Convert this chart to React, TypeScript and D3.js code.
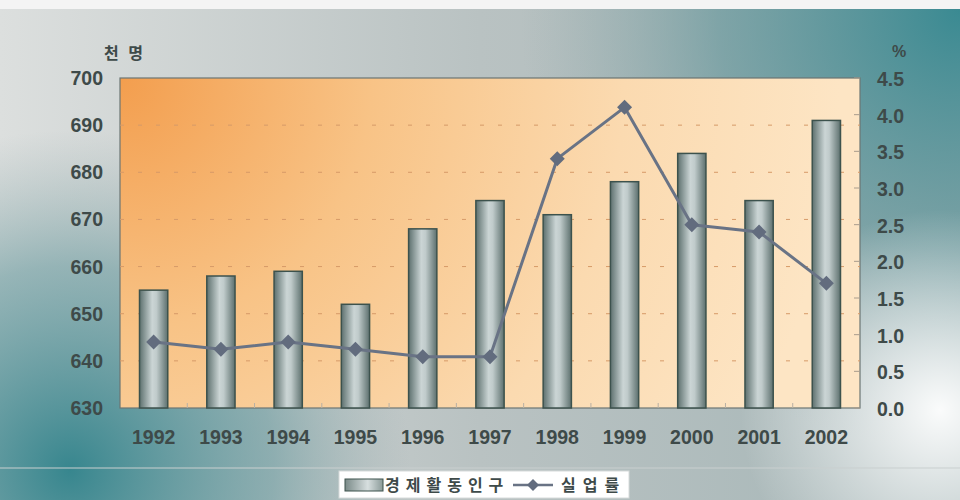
import React from "react";
import * as d3 from "d3";

const years = ["1992","1993","1994","1995","1996","1997","1998","1999","2000","2001","2002"];
const population = [655, 658, 659, 652, 668, 674, 671, 678, 684, 674, 691];
const unemployment = [0.9, 0.8, 0.9, 0.8, 0.7, 0.7, 3.4, 4.1, 2.5, 2.4, 1.7];
const leftTicks = [630, 640, 650, 660, 670, 680, 690, 700];
const rightTicks = [0, 0.5, 1, 1.5, 2, 2.5, 3, 3.5, 4, 4.5];
const leftUnit = "천 명";
const rightUnit = "%";
const barLabel = "경제활동인구";
const lineLabel = "실업률";

const W = 960, H = 500;
const M = { left: 120, right: 860, top: 78, bottom: 408 };
const TXT = "#3e4a49";
const FONT = "'Liberation Sans', Arial, sans-serif";
const KFONT = "'Noto Sans CJK KR', sans-serif";

export default function App() {
  const x = d3.scaleBand<string>().domain(years).range([M.left, M.right]).paddingInner(0.58).paddingOuter(0.29);
  const yL = d3.scaleLinear().domain([630, 700]).range([M.bottom, M.top]);
  const yR = d3.scaleLinear().domain([0, 4.5]).range([M.bottom, M.top]);
  const step = x.step();
  const line = d3.line<number>().x((_, i) => (x(years[i]) as number) + x.bandwidth() / 2).y(d => yR(d));
  const diamond = (cx: number, cy: number, r: number) => `M${cx},${cy - r}L${cx + r},${cy}L${cx},${cy + r}L${cx - r},${cy}Z`;

  return (
    <svg width={W} height={H} style={{ position: "absolute", left: 0, top: 0 }}>
      <defs>
        <radialGradient id="tealTR" cx="960" cy="10" r="440" gradientUnits="userSpaceOnUse">
          <stop offset="0" stopColor="#3a8a92" stopOpacity="1" />
          <stop offset="0.55" stopColor="#5f9499" stopOpacity="0.6" />
          <stop offset="1" stopColor="#8aa3a5" stopOpacity="0" />
        </radialGradient>
        <radialGradient id="tealBL" cx="70" cy="470" r="340" gradientUnits="userSpaceOnUse">
          <stop offset="0" stopColor="#37868e" stopOpacity="1" />
          <stop offset="0.6" stopColor="#5e9398" stopOpacity="0.55" />
          <stop offset="1" stopColor="#8aa3a5" stopOpacity="0" />
        </radialGradient>
        <radialGradient id="whiteR" cx="940" cy="410" r="200" gradientUnits="userSpaceOnUse">
          <stop offset="0" stopColor="#ffffff" stopOpacity="0.95" />
          <stop offset="1" stopColor="#ffffff" stopOpacity="0" />
        </radialGradient>
        <linearGradient id="baseBg" x1="0" y1="0" x2="1" y2="0">
          <stop offset="0" stopColor="#dcdfde" />
          <stop offset="0.5" stopColor="#b9c2c2" />
          <stop offset="1" stopColor="#a5b6b7" />
        </linearGradient>
        <radialGradient id="plotBg" cx="120" cy="78" r="720" gradientUnits="userSpaceOnUse">
          <stop offset="0" stopColor="#f39e4e" />
          <stop offset="0.35" stopColor="#f8c386" />
          <stop offset="0.7" stopColor="#fbdab0" />
          <stop offset="1" stopColor="#fde5c4" />
        </radialGradient>
        <linearGradient id="barGrad" x1="0" y1="0" x2="1" y2="0">
          <stop offset="0" stopColor="#5d706e" />
          <stop offset="0.45" stopColor="#cbd5d5" />
          <stop offset="0.6" stopColor="#c0cbcb" />
          <stop offset="1" stopColor="#5d706e" />
        </linearGradient>
        <linearGradient id="legGrad" x1="0" y1="0" x2="1" y2="0">
          <stop offset="0" stopColor="#7a8a88" />
          <stop offset="0.6" stopColor="#d7dfdf" />
          <stop offset="1" stopColor="#8a9a98" />
        </linearGradient>
      </defs>

      {/* background */}
      <rect x={0} y={0} width={W} height={H} fill="#f4f4f4" />
      <rect x={0} y={9} width={W} height={H - 9} fill="url(#baseBg)" />
      <rect x={0} y={9} width={W} height={H - 9} fill="url(#tealTR)" />
      <rect x={0} y={9} width={W} height={H - 9} fill="url(#tealBL)" />
      <rect x={0} y={9} width={W} height={H - 9} fill="url(#whiteR)" />
      <line x1={0} x2={W} y1={468} y2={468} stroke="#c9cfcf" strokeWidth={1} />

      {/* plot area */}
      <rect x={M.left} y={M.top} width={M.right - M.left} height={M.bottom - M.top} fill="url(#plotBg)" stroke="#6b7573" strokeWidth={1.2} />
      {leftTicks.slice(1, -1).map(t => (
        <line key={t} x1={M.left} x2={M.right} y1={yL(t)} y2={yL(t)} stroke="#d69a68" strokeWidth={1} strokeDasharray="4 14" />
      ))}
      {years.slice(1).map(yr => (
        <line key={yr} x1={(x(yr) as number) - (step - x.bandwidth()) / 2} x2={(x(yr) as number) - (step - x.bandwidth()) / 2}
          y1={M.bottom} y2={M.bottom - 5} stroke="#b8b0a4" strokeWidth={1} />
      ))}
      {rightTicks.map(t => (
        <line key={t} x1={M.right - 6} x2={M.right} y1={yR(t)} y2={yR(t)} stroke="#a89c8c" strokeWidth={1} />
      ))}

      {/* bars */}
      {population.map((v, i) => (
        <rect key={years[i]} x={x(years[i])} y={yL(v)} width={x.bandwidth()} height={M.bottom - yL(v)}
          fill="url(#barGrad)" stroke="#3c524d" strokeWidth={1.5} />
      ))}

      {/* line */}
      <path d={line(unemployment) as string} fill="none" stroke="#697385" strokeWidth={3} strokeLinejoin="round" />
      {unemployment.map((v, i) => (
        <path key={i} d={diamond((x(years[i]) as number) + x.bandwidth() / 2, yR(v), 7.5)} fill="#626c7e" />
      ))}

      {/* axes labels */}
      {leftTicks.map(t => (
        <text key={t} x={103} y={yL(t) + 7} textAnchor="end" fontFamily={FONT} fontWeight="bold" fontSize={19.5} fill={TXT}>{t}</text>
      ))}
      {rightTicks.map(t => (
        <text key={t} x={904} y={yR(t) + 8} textAnchor="end" fontFamily={FONT} fontWeight="bold" fontSize={19.5} fill={TXT}>{t.toFixed(1)}</text>
      ))}
      {years.map(yr => (
        <text key={yr} x={(x(yr) as number) + x.bandwidth() / 2} y={444} textAnchor="middle" fontFamily={FONT} fontWeight="bold" fontSize={19.5} fill={TXT}>{yr}</text>
      ))}
      <text x={104} y={59} fontFamily={KFONT} fontWeight="bold" fontSize={16} fill={TXT} letterSpacing={3} style={{ whiteSpace: "pre" }}>{leftUnit}</text>
      <text x={899} y={57} textAnchor="middle" fontFamily={FONT} fontWeight="bold" fontSize={16} fill={TXT}>{rightUnit}</text>

      {/* legend */}
      <rect x={339} y={471} width={290} height={27} fill="#ffffff" stroke="#d6dada" strokeWidth={1} />
      <rect x={345} y={479} width={38} height={12} fill="url(#legGrad)" stroke="#3c524d" strokeWidth={1} />
      <text x={385} y={491} fontFamily={KFONT} fontWeight="bold" fontSize={16} fill={TXT} letterSpacing={6}>{barLabel}</text>
      <line x1={513} x2={553} y1={485} y2={485} stroke="#697385" strokeWidth={2.5} />
      <path d={diamond(533, 485, 6)} fill="#626c7e" />
      <text x={561} y={491} fontFamily={KFONT} fontWeight="bold" fontSize={16} fill={TXT} letterSpacing={7}>{lineLabel}</text>
    </svg>
  );
}
